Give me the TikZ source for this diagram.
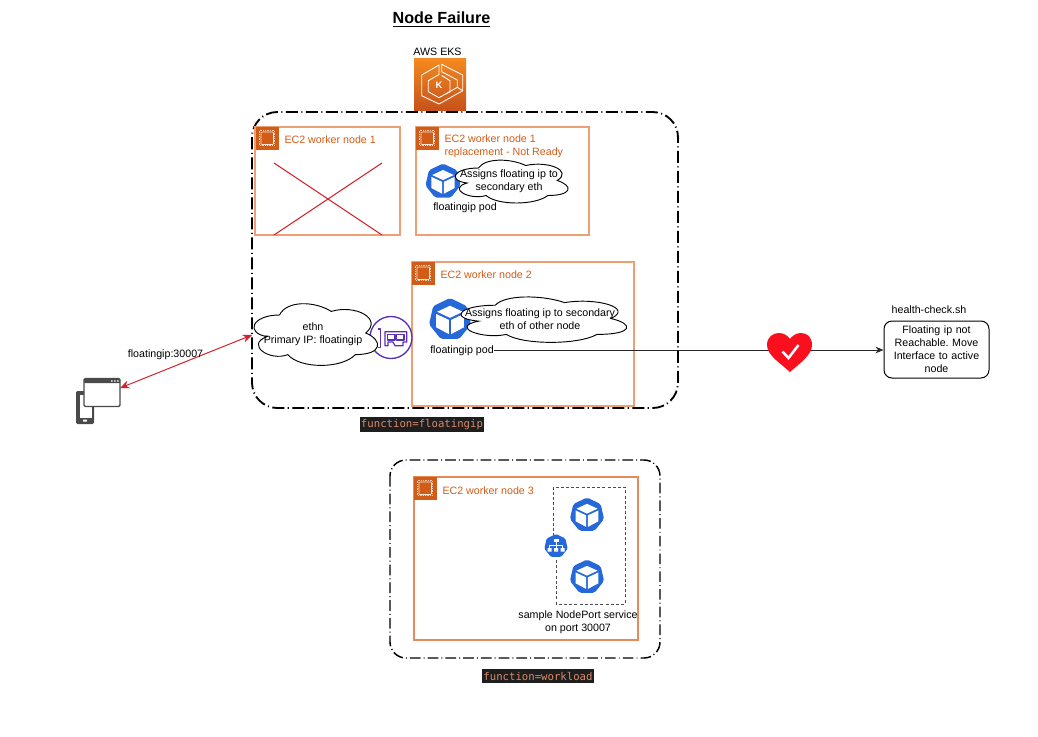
\documentclass[tikz,border=0pt]{standalone}
\usepackage{fontspec}
\setmainfont{Liberation Sans}
\newfontfamily\tagfont{DejaVu Sans Mono}
\frenchspacing
\usetikzlibrary{arrows.meta,positioning,calc}
\definecolor{ec2orange}{HTML}{D05C17}
\definecolor{ec2line}{HTML}{EE9F74}
\definecolor{ekstop}{HTML}{F58A20}
\definecolor{eksbottom}{HTML}{C5531B}
\definecolor{podblue}{HTML}{2468DA}
\definecolor{nicpurple}{HTML}{5A30B5}
\definecolor{crossred}{HTML}{D4232B}
\definecolor{heartred}{HTML}{FA0F1E}
\definecolor{clientgray}{HTML}{4A4A4A}
\definecolor{tagback}{HTML}{1E1E1E}
\definecolor{tagtext}{HTML}{D98A6B}
\def\pxu{0.75pt}
\tikzset{
    every picture/.style={line width=0.75pt},
    txt/.style={font=\fontsize{8}{9.75}\selectfont, align=center, inner sep=0pt},
    ectitle/.style={txt, align=left, anchor=west, text=ec2orange},
    workerbox/.style={draw=ec2line, line width=0.8pt, inner sep=0pt, outer sep=0pt},
    clusterline/.style={draw=black, dash pattern=on 9pt off 2.6pt on 0.8pt off 2.6pt},
    cloudline/.style={draw=black, fill=white, line width=0.7pt},
    tagbox/.style={fill=tagback, text=tagtext, font=\tagfont\fontsize{8}{9}\selectfont, inner xsep=1pt, inner ysep=2pt},
    pics/chipicon/.style={code={
        \fill[ec2orange] (0,0) rectangle (22.5,22.5);
        \draw[white!85!ec2orange, line width=0.45pt, rounded corners=0.6pt] (5,5) rectangle (17.5,17.5);
        \draw[white!70!ec2orange, line width=0.8pt, dash pattern=on 0.4pt off 0.9pt] (3.6,3.6) rectangle (18.9,18.9);
    }},
    pics/podicon/.style={code={
        \begin{scope}[scale=#1]
            \fill[podblue, rounded corners=1.4pt] (-90:1) \foreach \a in {1,...,6}{ -- ({-90+\a*360/7}:1)} -- cycle;
            \fill[white] (0,-0.64) -- (0.6,-0.36) -- (0,-0.08) -- (-0.6,-0.36) -- cycle;
            \fill[white] (-0.65,-0.26) -- (-0.05,0.02) -- (-0.05,0.68) -- (-0.65,0.36) -- cycle;
            \fill[white] (0.65,-0.26) -- (0.05,0.02) -- (0.05,0.68) -- (0.65,0.36) -- cycle;
        \end{scope}
    }},
    pics/svcicon/.style={code={
        \fill[podblue, rounded corners=1pt] (-90:12) \foreach \a in {1,...,6}{ -- ({-90+\a*360/7}:12)} -- cycle;
        \fill[white] (-2.5,-7.5) rectangle (2.5,-4);
        \draw[white, line width=0.5pt] (0,-4) -- (0,2) (-6.5,2) -- (-6.5,-1) -- (6.5,-1) -- (6.5,2);
        \fill[white] (-8.5,2) rectangle (-4.5,5.5) (-2,2) rectangle (2,5.5) (4.5,2) rectangle (8.5,5.5);
    }},
    % width and height of the whole cloud
    pics/dcloud/.style n args={2}{code={
        \begin{scope}[xscale=#1, yscale=#2]
            \path[cloudline] (0.25,0.25) .. controls (0.05,0.25) and (0,0.5) .. (0.16,0.55)
                .. controls (0,0.66) and (0.18,0.9) .. (0.31,0.8)
                .. controls (0.4,1) and (0.7,1) .. (0.8,0.8)
                .. controls (1,0.8) and (1,0.6) .. (0.875,0.5)
                .. controls (1,0.3) and (0.8,0.1) .. (0.625,0.2)
                .. controls (0.5,0.05) and (0.3,0.05) .. (0.25,0.25) -- cycle;
        \end{scope}
    }}
}

\begin{document}
\begin{tikzpicture}[x=0.75pt, y=-0.75pt]
    \useasboundingbox (0,0) rectangle (1038,736);
    % title
    \node[txt, font=\bfseries\fontsize{12.1}{14}\selectfont] (title) at (441.5,19.5) {\underline{Node Failure}};
    % clusters
    \draw[clusterline, line width=1.4pt, rounded corners=19pt] (252,112) rectangle (678,408);
    \draw[clusterline, line width=1.1pt, rounded corners=12pt, dash pattern=on 8pt off 2.3pt on 0.7pt off 2.3pt] (390,460) rectangle (660,658);
    \node[tagbox] (tagfloat) at (422,424.5) {function=floatingip};
    \node[tagbox] (tagwork) at (538,676) {function=workload};
    % eks
    \node[txt] (ekslabel) at (437.5,52) {AWS EKS};
    \shade[top color=ekstop, bottom color=eksbottom] (414,58) rectangle (466,110);
    \begin{scope}[draw=white, line width=0.65pt, line join=round]
        \draw (439,65) -- (421.7,75) -- (421.7,95.7) -- (439,104) -- (462.7,90.7) -- (462.7,75) -- (441.7,64.3) -- (441.7,71.7) -- (457.3,80) -- (457.3,87.3) -- (439,97.7) -- (428.3,91.7) -- (428.3,80.7) -- (439,74.5) -- cycle;
        \draw (457.3,87.3) -- (462.7,90.7);
        \draw (441.7,75.5) -- (450,80.7) -- (450,91.7) -- (446,94);
    \end{scope}
    \node[txt, text=white, font=\bfseries\fontsize{7}{8}\selectfont] (ekskey) at (439,85) {K};
    % worker nodes
    \node[workerbox, minimum width=145*\pxu, minimum height=108*\pxu] (worker1) at (327.5,181) {};
    \pic (chip1) at (256,127) {chipicon};
    \node[ectitle] (title1) at (284,139.5) {EC2 worker node 1};
    \draw[crossred] (274,163) -- (382,235);
    \draw[crossred] (382,163) -- (274,235);
    \node[workerbox, minimum width=173*\pxu, minimum height=108*\pxu] (replacement) at (502.5,181) {};
    \pic (chip2) at (416,127) {chipicon};
    \node[ectitle] (title2) at (444,146) {EC2 worker node 1\\replacement - Not Ready};
    \pic (pod1) at (443,181.5) {podicon=18};
    \node[txt] (podlabel1) at (465,208) {floatingip pod};
    \pic (cloud1) at (447,155.5) {dcloud={126}{50}};
    \node[txt] (cloudtext1) at (509,181.5) {Assigns floating ip to\\secondary eth};
    \node[workerbox, minimum width=222*\pxu, minimum height=144*\pxu] (worker2) at (523,334) {};
    \pic (chip3) at (412,262) {chipicon};
    \node[ectitle] (title3) at (440,274.5) {EC2 worker node 2};
    \pic (pod2) at (450,319.5) {podicon=21.5};
    \node[txt] (podlabel2) at (462,351) {floatingip pod};
    \pic (cloud2) at (449,292) {dcloud={185}{53}};
    \node[txt] (cloudtext2) at (540,319.5) {Assigns floating ip to secondary\\eth of other node};
    % interface
    \node[circle, draw=nicpurple, line width=1pt, fill=white, minimum size=42*\pxu, inner sep=0pt] (nic) at (391,337.5) {};
    \begin{scope}[draw=nicpurple, line width=0.9pt, line join=round]
        \draw (377.5,329) -- (380.7,329) -- (380.7,347.7) -- (377.5,347.7);
        \draw (385,331.7) -- (406.7,331.7) -- (406.7,342) -- (403,342) -- (403,345.7) -- (395,345.7) -- (393,342) -- (388,342) -- (388,345.7) -- (385,345.7) -- cycle;
        \draw (387.5,334.5) rectangle (395,340);
        \draw (396.5,334.5) rectangle (404,340);
    \end{scope}
    \pic (cloud3) at (245,297) {dcloud={138}{72}};
    \node[txt] (ethn) at (313,334) {ethn\\Primary IP: floatingip};
    % worker 3
    \node[workerbox, draw=ec2line!70!ec2orange, minimum width=224*\pxu, minimum height=163*\pxu] (worker3) at (526,558.5) {};
    \pic (chip4) at (414,477) {chipicon};
    \node[ectitle] (title4) at (442,490.5) {EC2 worker node 3};
    \draw[line width=0.7pt, draw=black!70, dash pattern=on 2.2pt off 1.7pt] (556,560) -- (556,604) -- (625,604) -- (625,487) -- (553,487) -- (553,535);
    \pic (pod3) at (587,515) {podicon=17.5};
    \pic (pod4) at (587,577) {podicon=17.5};
    \pic (svc) at (556,546) {svcicon};
    \node[txt] (svclabel) at (578,622.5) {sample NodePort service\\on port 30007};
    % client
    \fill[clientgray, rounded corners=1pt] (76,391) rectangle (94,424);
    \fill[white] (80,395) rectangle (92,417.5);
    \fill[white, rounded corners=0.3pt] (83,419.5) rectangle (87,421.5);
    \node[draw=clientgray, fill=white, line width=1pt, rounded corners=1pt, minimum width=36*\pxu, minimum height=28*\pxu, inner sep=0pt, outer sep=0pt] (appwin) at (102,392.5) {};
    \fill[clientgray, rounded corners=0.5pt] (84,379) rectangle (120,383);
    \fill[white] (111,380.3) rectangle (112.5,381.7) (114,380.3) rectangle (115.5,381.7) (117,380.3) rectangle (118.5,381.7);
    \coordinate (ethnedge) at (252,335);
    \draw[crossred, {Stealth[length=7pt,width=6pt]}-{Stealth[length=7pt,width=6pt]}] (appwin.14) -- (ethnedge);
    \node[txt] (floatlabel) at (165.5,355) {floatingip:30007};
    % health check
    \node[txt] (hclabel) at (929,310) {health-check.sh};
    \node[draw=black, fill=white, rounded corners=6pt, txt, minimum width=105*\pxu, minimum height=57*\pxu, text width=100*\pxu] (hcbox) at (936.5,349.5) {Floating ip not\\Reachable. Move\\Interface to active\\node};
    \coordinate (flowstart) at ([yshift=0.75pt]podlabel2.east);
    \draw[black!85, -{Stealth[length=6pt,width=5pt]}] (flowstart) -- (flowstart -| hcbox.west);
    \coordinate (heart) at (790,352);
    \fill[heartred] (790,372) .. controls (780,363) and (767,355) .. (767,345)
        .. controls (767,337) and (773,333) .. (779,333)
        .. controls (784,333) and (788,336) .. (790,339)
        .. controls (792,336) and (796,333) .. (801,333)
        .. controls (807,333) and (812,337) .. (812,345)
        .. controls (812,355) and (800,363) .. (790,372) -- cycle;
    \draw[white, line width=1.9pt] (782.5,351.5) -- (788.5,358) -- (798.5,345);
\end{tikzpicture}
\end{document}
